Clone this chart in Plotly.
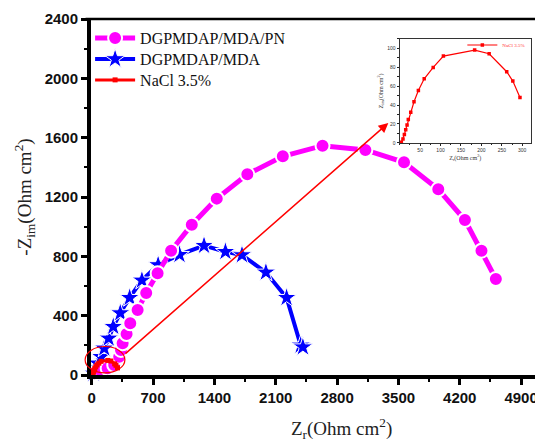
import plotly.graph_objects as go

# DGPMDAP/MDA/PN (magenta circles)
pn_x = [30, 106, 182, 257, 314, 334, 353, 398, 440, 524, 622, 752, 906, 1142, 1427,
        1776, 2181, 2634, 3123, 3564, 3955, 4259, 4448, 4612]
pn_y = [11, 27, 45, 67, 123, 169, 214, 276, 349, 438, 553, 686, 838, 1013, 1189,
        1353, 1474, 1546, 1517, 1434, 1252, 1045, 838, 647]

# DGPMDAP/MDA (blue stars)
mda_x = [23, 38, 68, 106, 143, 194, 246, 326, 433, 573, 758, 1002, 1282, 1526,
         1715, 1988, 2224, 2385, 2410]
mda_y = [11, 45, 79, 123, 180, 247, 326, 418, 521, 638, 742, 811, 872, 831,
         809, 692, 521, 200, 188]

# NaCl 3.5% (red squares)
nacl_x = [4, 8, 11.4, 14.7, 18, 21, 27, 35, 45.7, 60, 82, 107, 183.5, 219, 262, 277, 294.5]
nacl_y = [0.7, 4.2, 8.8, 14, 19, 24.7, 32.5, 43.5, 55.5, 67.8, 79.9, 91.9, 98.2, 94.3,
          75.3, 65.4, 48]

x_ticks = [0, 700, 1400, 2100, 2800, 3500, 4200, 4900]
y_ticks = [0, 400, 800, 1200, 1600, 2000, 2400]
inset_x_ticks = [50, 100, 150, 200, 250, 300]
inset_y_ticks = [0, 20, 40, 60, 80, 100]

fig = go.Figure()

fig.add_trace(go.Scatter(
    x=mda_x, y=mda_y, mode='lines+markers', name='DGPMDAP/MDA', legend='legend3',
    line=dict(color='#0000ff', width=4),
    marker=dict(symbol='star', size=15, color='#0000ff', line=dict(color='white', width=1)),
    cliponaxis=False))
fig.add_trace(go.Scatter(
    x=pn_x, y=pn_y, mode='lines+markers', name='DGPMDAP/MDA/PN', legend='legend',
    line=dict(color='#ff00ff', width=5),
    marker=dict(symbol='circle', size=14, color='#ff00ff', line=dict(color='white', width=2)),
    cliponaxis=False))
fig.add_trace(go.Scatter(
    x=nacl_x, y=nacl_y, mode='lines+markers', name='NaCl 3.5%', legend='legend4',
    line=dict(color='#ff0000', width=3),
    marker=dict(symbol='square', size=5, color='#ff0000'),
    cliponaxis=False))
fig.add_trace(go.Scatter(
    x=nacl_x, y=nacl_y, xaxis='x2', yaxis='y2', mode='lines+markers', name='NaCl 3.5%',
    legend='legend2',
    line=dict(color='#ff0000', width=1.2),
    marker=dict(symbol='square', size=3.5, color='#ff0000')))

tickfont = dict(family='Liberation Sans, Arial', size=15, color='#111111', weight='bold')
legfont = dict(family='Liberation Serif, Times New Roman', size=16, color='#111')
leg_common = dict(xanchor='left', yanchor='middle', bgcolor='rgba(0,0,0,0)',
                  font=legfont, itemwidth=40)

fig.update_layout(
    width=535, height=435,
    margin=dict(l=83, r=0, t=11, b=68),
    paper_bgcolor='white', plot_bgcolor='white',
    xaxis=dict(range=[-8, 5150], tickvals=x_ticks, ticks='outside', ticklen=6, tickwidth=3,
               tickcolor='black', showline=True, linewidth=4, linecolor='black',
               showgrid=False, zeroline=False, tickfont=tickfont,
               minor=dict(dtick=350, tick0=0, ticks='outside', ticklen=3, tickwidth=2,
                          tickcolor='black', showgrid=False)),
    yaxis=dict(range=[0, 2400], tickvals=y_ticks, ticks='outside', ticklen=6, tickwidth=3,
               tickcolor='black', showline=True, linewidth=4, linecolor='black',
               showgrid=False, zeroline=False, tickfont=tickfont,
               title=dict(text='-Z<sub>im</sub>(Ohm cm<sup>2</sup>)', standoff=9,
                          font=dict(family='Liberation Serif, Times New Roman', size=19,
                                    color='#222222')),
               minor=dict(dtick=200, tick0=0, ticks='outside', ticklen=3, tickwidth=2,
                          tickcolor='black', showgrid=False)),
    xaxis2=dict(domain=[0.683, 0.973], anchor='y2', range=[0, 321], tickvals=inset_x_ticks,
                ticks='outside', ticklen=2, tickwidth=1, tickcolor='#222', showline=True,
                mirror=True, linewidth=1.2, linecolor='#333', showgrid=False, zeroline=False,
                tickfont=dict(family='Liberation Sans', size=5, color='#333'),
                title=dict(text='Z<sub>r</sub>(Ohm cm<sup>2</sup>)', standoff=2,
                           font=dict(family='Liberation Serif', size=6, color='#333')),
                minor=dict(dtick=25, ticks='outside', ticklen=1.5, tickcolor='#222')),
    yaxis2=dict(domain=[0.652, 0.944], anchor='x2', range=[0, 110], tickvals=inset_y_ticks,
                ticks='outside', ticklen=2, tickwidth=1, tickcolor='#222', showline=True,
                mirror=True, linewidth=1.2, linecolor='#333', showgrid=False, zeroline=False,
                tickfont=dict(family='Liberation Sans', size=5, color='#333'),
                title=dict(text='Z<sub>im</sub>(Ohm cm<sup>2</sup>)', standoff=3,
                           font=dict(family='Liberation Serif', size=6, color='#333')),
                minor=dict(dtick=10, ticks='outside', ticklen=1.5, tickcolor='#222')),
    legend=dict(x=-0.002, y=0.9466, **leg_common),
    legend3=dict(x=-0.002, y=0.8876, **leg_common),
    legend4=dict(x=-0.002, y=0.8287, **leg_common),
    legend2=dict(x=0.972, y=0.927, xanchor='right', yanchor='middle', bgcolor='rgba(0,0,0,0)',
                 font=dict(family='Liberation Serif', size=5, color='#ff3333'),
                 itemwidth=30),
    showlegend=True,
)

# top frame line
fig.add_shape(type='line', xref='paper', yref='paper', x0=-0.012, x1=1, y0=1, y1=1,
              line=dict(color='black', width=2.5))
# red ellipse around origin region
fig.add_shape(type='circle', xref='x domain', yref='y domain', x0=-0.013, x1=0.075,
              y0=0.006, y1=0.08, line=dict(color='#ff0000', width=1.2))
# arrow to inset
fig.add_annotation(x=3385, y=1699, ax=368, ay=135, xref='x', yref='y', axref='x', ayref='y',
                   text='', showarrow=True, arrowhead=2, arrowsize=1.3, arrowwidth=1.5,
                   arrowcolor='#ff0000')
# x-axis title
fig.add_annotation(x=0.555, y=-0.149, xref='paper', yref='paper', showarrow=False,
                   text='Z<sub>r</sub>(Ohm cm<sup>2</sup>)', xanchor='center', yanchor='middle',
                   font=dict(family='Liberation Serif, Times New Roman', size=19, color='#222222'))

fig.write_html('out.html')
